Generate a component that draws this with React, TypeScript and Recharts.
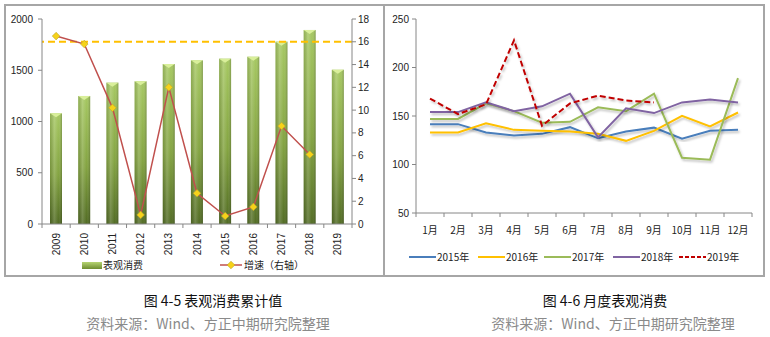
import { Bar, ComposedChart, Line, ReferenceLine, XAxis, YAxis } from 'recharts'

// left chart: cumulative apparent consumption + growth
const YEARS = ['2009', '2010', '2011', '2012', '2013', '2014', '2015', '2016', '2017', '2018', '2019']
const CONSUMPTION = [1080, 1249, 1379, 1392, 1561, 1597, 1613, 1632, 1779, 1893, 1505]
const GROWTH: (number | null)[] = [16.5, 15.8, 10.2, 0.8, 12.0, 2.7, 0.7, 1.5, 8.6, 6.1, null]
const GROWTH_REF = 16
const LEFT_TICKS = [0, 500, 1000, 1500, 2000]
const RIGHT_TICKS = [0, 2, 4, 6, 8, 10, 12, 14, 16, 18]

// right chart: monthly apparent consumption
const MONTHS = ['1月', '2月', '3月', '4月', '5月', '6月', '7月', '8月', '9月', '10月', '11月', '12月']
const Y2015 = [141.6, 141.6, 133, 130, 131.6, 138.5, 127, 134, 138, 126.5, 134.7, 135.7]
const Y2016 = [133, 133, 142.6, 135.7, 134.7, 134, 131.6, 124.4, 134.7, 150.2, 139.2, 153.6]
const Y2017 = [147, 147, 163, 155, 143, 144, 159, 155, 173, 107, 105, 189]
const Y2018 = [154, 154, 164, 155, 160, 173, 128, 158, 153, 164, 167, 164]
const Y2019 = [168, 152, 162, 228, 140, 163, 171, 166, 164]
const MONTH_TICKS = [50, 100, 150, 200, 250]

const SERIES = [
  { key: 'y2015', name: '2015年', color: '#4a7ebb', dash: undefined },
  { key: 'y2016', name: '2016年', color: '#ffc000', dash: undefined },
  { key: 'y2017', name: '2017年', color: '#9bbb59', dash: undefined },
  { key: 'y2018', name: '2018年', color: '#8064a2', dash: undefined },
  { key: 'y2019', name: '2019年', color: '#c00000', dash: '6 3' },
]

const yearRows = YEARS.map((year, i) => ({ year, consumption: CONSUMPTION[i], growth: GROWTH[i] }))
const monthRows = MONTHS.map((month, i) => ({
  month,
  y2015: Y2015[i],
  y2016: Y2016[i],
  y2017: Y2017[i],
  y2018: Y2018[i],
  y2019: i < Y2019.length ? Y2019[i] : null,
}))

const AXIS = '#868686'
const NUM_FONT = '"Liberation Sans", "Noto Sans CJK SC", sans-serif'
const CJK_FONT = '"Noto Sans CJK SC", "Liberation Sans", sans-serif'

const LEFT_BAND = 310 / YEARS.length
const RIGHT_BAND = 336 / MONTHS.length

function YearTick(props: any) {
  const { x, y, payload, index } = props
  return (
    <g>
      {index === 0 && <line x1={x - LEFT_BAND / 2} x2={x - LEFT_BAND / 2} y1={y} y2={y + 4} stroke={AXIS} />}
      <line x1={x + LEFT_BAND / 2} x2={x + LEFT_BAND / 2} y1={y} y2={y + 4} stroke={AXIS} />
      <text
        transform={`rotate(-90 ${x} ${y + 9})`}
        x={x}
        y={y + 9}
        dy={3.5}
        textAnchor="end"
        fontSize={10}
        fontFamily={NUM_FONT}
        fill="#222"
      >
        {payload.value}
      </text>
    </g>
  )
}

function MonthTick(props: any) {
  const { x, y, payload, index } = props
  return (
    <g>
      {index === 0 && <line x1={x - RIGHT_BAND / 2} x2={x - RIGHT_BAND / 2} y1={y} y2={y + 4} stroke={AXIS} />}
      <line x1={x + RIGHT_BAND / 2} x2={x + RIGHT_BAND / 2} y1={y} y2={y + 4} stroke={AXIS} />
      <text x={x} y={y + 21} textAnchor="middle" fontSize={10} fontFamily={CJK_FONT} fill="#222">
        {payload.value}
      </text>
    </g>
  )
}

function CylinderBar(props: any) {
  const { x, y, width, height } = props
  if (height <= 0) return <g />
  return (
    <g>
      <rect x={x} y={y} width={width} height={height} fill="url(#barBody)" />
      <rect x={x} y={y} width={width} height={height} fill="url(#barShade)" />
      <polygon points={`${x},${y} ${x + width},${y} ${x + width / 2},${y + 4}`} fill="#d9ef9a" />
    </g>
  )
}

function Diamond(props: any) {
  const { cx, cy, index } = props
  if (cx == null || cy == null) return <g key={index} />
  const r = 3.8
  return (
    <polygon
      key={index}
      points={`${cx},${cy - r} ${cx + r},${cy} ${cx},${cy + r} ${cx - r},${cy}`}
      fill="#f6d21a"
      stroke="#b9a22a"
      strokeWidth={0.6}
    />
  )
}

const tickStyle = { fontSize: 10, fontFamily: NUM_FONT, fill: '#222' }

export default function App() {
  return (
    <div style={{ position: 'absolute', left: 0, top: 0, width: 770, height: 337, background: '#fff' }}>
      <div style={{ position: 'absolute', left: 4, top: 4, width: 757, height: 269, border: '2px solid #a6a6a6' }} />
      <div style={{ position: 'absolute', left: 383, top: 4, width: 2, height: 273, background: '#a6a6a6' }} />

      <div style={{ position: 'absolute', left: 6, top: 6 }}>
        <ComposedChart width={377} height={269} data={yearRows} margin={{ top: 13, right: 0, left: 0, bottom: 0 }}>
          <defs>
            <linearGradient id="barBody" x1="0" y1="0" x2="0" y2="1">
              <stop offset="0%" stopColor="#a6c862" />
              <stop offset="55%" stopColor="#84a442" />
              <stop offset="100%" stopColor="#526c24" />
            </linearGradient>
            <linearGradient id="barShade" x1="0" y1="0" x2="1" y2="0">
              <stop offset="0%" stopColor="#000" stopOpacity={0.12} />
              <stop offset="35%" stopColor="#fff" stopOpacity={0.18} />
              <stop offset="70%" stopColor="#fff" stopOpacity={0} />
              <stop offset="100%" stopColor="#000" stopOpacity={0.22} />
            </linearGradient>
          </defs>
          <XAxis
            dataKey="year"
            height={51}
            interval={0}
            tickLine={false}
            tickSize={0}
            tickMargin={0}
            axisLine={{ stroke: AXIS }}
            tick={<YearTick />}
          />
          <YAxis
            yAxisId="left"
            width={36}
            domain={[0, 2000]}
            ticks={LEFT_TICKS}
            tickSize={4}
            tickMargin={5}
            axisLine={{ stroke: AXIS }}
            tickLine={{ stroke: AXIS }}
            tick={tickStyle}
          />
          <YAxis
            yAxisId="right"
            orientation="right"
            width={31}
            domain={[0, 18]}
            ticks={RIGHT_TICKS}
            tickSize={4}
            tickMargin={2}
            axisLine={{ stroke: AXIS }}
            tickLine={{ stroke: AXIS }}
            tick={tickStyle}
          />
          <Bar yAxisId="left" dataKey="consumption" barSize={12} shape={<CylinderBar />} isAnimationActive={false} />
          <ReferenceLine yAxisId="right" y={GROWTH_REF} stroke="#ffc000" strokeWidth={2} strokeDasharray="7 4" />
          <Line
            yAxisId="right"
            dataKey="growth"
            type="linear"
            stroke="#c0504d"
            strokeWidth={1.5}
            dot={(p: any) => <Diamond key={p.index} {...p} />}
            activeDot={false}
            isAnimationActive={false}
          />
        </ComposedChart>
      </div>

      {/* left legend */}
      <div style={{ position: 'absolute', left: 82, top: 262, width: 20, height: 7, background: 'linear-gradient(#b6d472, #6e8c30)' }} />
      <div style={{ position: 'absolute', left: 103, top: 257, fontSize: 10, fontFamily: CJK_FONT, lineHeight: '16px', color: '#222' }}>表观消费</div>
      <svg style={{ position: 'absolute', left: 218, top: 259 }} width={26} height={12}>
        <line x1={2} x2={24} y1={6} y2={6} stroke="#c0504d" strokeWidth={1.5} />
        <polygon points="13,2.2 16.8,6 13,9.8 9.2,6" fill="#f6d21a" stroke="#b9a22a" strokeWidth={0.6} />
      </svg>
      <div style={{ position: 'absolute', left: 244, top: 257, fontSize: 10, fontFamily: CJK_FONT, lineHeight: '16px', color: '#222' }}>增速（右轴）</div>

      <div style={{ position: 'absolute', left: 385, top: 6 }}>
        <ComposedChart width={377} height={269} data={monthRows} margin={{ top: 13, right: 10, left: 0, bottom: 0 }}>
          <defs>
            <filter id="lineShadow" x="-10%" y="-10%" width="120%" height="130%">
              <feDropShadow dx={1.5} dy={2} stdDeviation={1.2} floodColor="#000" floodOpacity={0.25} />
            </filter>
          </defs>
          <XAxis
            dataKey="month"
            scale="band"
            height={62}
            interval={0}
            tickLine={false}
            tickSize={0}
            tickMargin={0}
            axisLine={{ stroke: AXIS }}
            tick={<MonthTick />}
          />
          <YAxis
            width={31}
            domain={[50, 250]}
            ticks={MONTH_TICKS}
            tickSize={4}
            tickMargin={3}
            axisLine={{ stroke: AXIS }}
            tickLine={{ stroke: AXIS }}
            tick={tickStyle}
          />
          {SERIES.map((s) => (
            <Line
              key={s.key}
              dataKey={s.key}
              type="linear"
              stroke={s.color}
              strokeWidth={2}
              strokeDasharray={s.dash}
              filter="url(#lineShadow)"
              dot={false}
              activeDot={false}
              isAnimationActive={false}
            />
          ))}
        </ComposedChart>
      </div>

      {/* right legend */}
      {SERIES.map((s, i) => {
        const left = [409, 478, 544, 613, 679][i]
        return (
          <div key={s.key}>
            <svg style={{ position: 'absolute', left, top: 252 }} width={28} height={10}>
              <line x1={0} x2={27} y1={5} y2={5} stroke={s.color} strokeWidth={2} strokeDasharray={s.dash === undefined ? undefined : '4 2'} />
            </svg>
            <div style={{ position: 'absolute', left: left + 28, top: 249, fontSize: 10, fontFamily: CJK_FONT, lineHeight: '16px', color: '#222' }}>
              {s.name}
            </div>
          </div>
        )
      })}

      {/* captions */}
      <div style={{ position: 'absolute', left: 113, width: 200, top: 290, textAlign: 'center', fontSize: 14, fontFamily: CJK_FONT, lineHeight: '20px', color: '#111' }}>
        图 4-5 表观消费累计值
      </div>
      <div style={{ position: 'absolute', left: 58, width: 300, top: 313, textAlign: 'center', fontSize: 14, fontFamily: CJK_FONT, lineHeight: '20px', color: '#8a8a8a' }}>
        资料来源：Wind、方正中期研究院整理
      </div>
      <div style={{ position: 'absolute', left: 505, width: 200, top: 290, textAlign: 'center', fontSize: 14, fontFamily: CJK_FONT, lineHeight: '20px', color: '#111' }}>
        图 4-6 月度表观消费
      </div>
      <div style={{ position: 'absolute', left: 463, width: 300, top: 313, textAlign: 'center', fontSize: 14, fontFamily: CJK_FONT, lineHeight: '20px', color: '#8a8a8a' }}>
        资料来源：Wind、方正中期研究院整理
      </div>
    </div>
  )
}
